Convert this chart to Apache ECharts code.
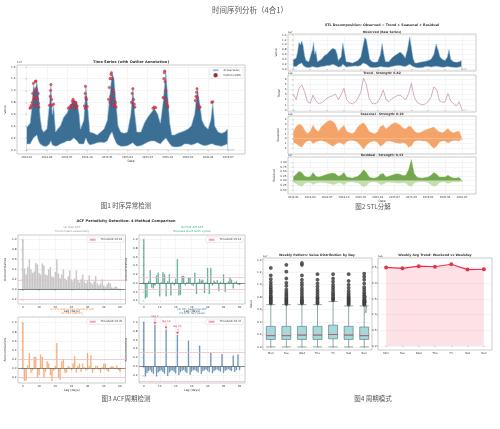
<!DOCTYPE html>
<html>
<head>
<meta charset="utf-8">
<script src="https://cdn.jsdelivr.net/npm/echarts@6/dist/echarts.min.js"></script>
<style>
html, body { margin: 0; padding: 0; background: #fff; }
#main { width: 500px; height: 429px; }
</style>
</head>
<body>
<div id="main"></div>
<script>
// ---------- data ----------
// panel 1 / STL observed: months since 2024-01, envelope of the raw series (x1e7)
const tsMonth = [0,0.25,0.5,0.75,1.0,1.25,1.5,1.75,2.0,2.25,2.5,2.75,3.0,3.4,3.6,3.8,4.0,4.3,4.6,5.0,5.5,6.0,6.5,7.0,7.5,7.8,8.0,8.5,8.8,9.1,9.4,10,10.5,11,11.5,12,12.4,12.7,13,13.3,13.6,14,14.5,15,15.5,15.8,16.1,16.4,17,17.5,18,18.5,19,19.5,19.9,20.3,20.7,21,21.3,21.6,22,22.5,23,23.5,24,24.5,25,25.4,25.8,26.1,26.5,27,27.4,27.7,28,28.5,29,29.5,29.9];
const tsHigh = [0.38,0.35,0.45,0.7,1.1,1.0,1.15,0.95,0.55,0.35,0.3,0.3,0.35,0.8,1.1,0.6,0.75,0.3,0.35,0.4,0.55,0.62,0.75,0.85,0.8,0.6,0.35,0.5,1.07,0.7,0.3,0.28,0.25,0.3,0.35,0.5,0.95,1.3,1.2,0.8,0.4,0.3,0.28,0.3,0.6,1.05,0.6,0.3,0.3,0.45,0.55,0.62,0.7,0.6,0.45,0.8,1.33,0.9,0.45,0.25,0.25,0.28,0.3,0.32,0.35,0.4,0.6,1.03,0.75,0.5,0.4,0.35,0.5,0.8,0.4,0.3,0.28,0.3,0.35];
const tsLow = [0.1,0.08,0.1,0.15,0.2,0.2,0.25,0.15,0.1,0.07,0.06,0.05,0.06,0.1,0.15,0.08,0.06,0.06,0.07,0.1,0.12,0.15,0.15,0.2,0.15,0.1,0.08,0.1,0.2,0.12,0.08,0.1,0.12,0.13,0.12,0.15,0.25,0.3,0.2,0.12,0.08,0.06,0.06,0.07,0.1,0.12,0.08,0.06,0.07,0.1,0.13,0.15,0.15,0.12,0.1,0.15,0.2,0.15,0.1,0.06,0.05,0.05,0.06,0.1,0.1,0.08,0.1,0.12,0.1,0.08,0.07,0.08,0.1,0.1,0.08,0.07,0.06,0.08,0.1];
const tailMonth = [29.95, 30.9];
const tailValue = [0.0, 0.0];
const outliers = [
  [0.5,0.7],[0.6,0.72],[0.7,0.75],[0.8,0.8],[0.9,0.95],[1.0,1.12],[1.0,0.85],[1.1,0.9],[1.2,1.0],[1.2,0.75],[1.3,1.15],[1.35,1.16],[1.4,1.03],[1.5,0.88],[1.6,0.85],[1.7,0.95],[1.75,0.78],[1.8,0.72],
  [3.4,0.75],[3.5,0.9],[3.55,1.0],[3.6,1.1],[3.7,0.85],[3.75,0.75],[4.0,0.77],
  [6.2,0.7],[6.4,0.72],[6.6,0.75],[6.8,0.82],[6.9,0.85],[7.0,0.78],[7.1,0.7],[7.2,0.73],[7.3,0.8],[7.4,0.72],[7.5,0.74],
  [8.6,0.74],[8.7,0.95],[8.75,1.07],[8.8,0.88],[8.9,0.85],[9.0,0.73],[8.7,0.7],
  [12.2,0.85],[12.3,1.05],[12.4,1.2],[12.4,0.8],[12.5,0.9],[12.55,1.27],[12.6,1.3],[12.7,1.2],[12.8,1.0],[12.8,0.75],[12.9,0.95],[13.0,0.85],[13.1,0.75],[13.2,0.8],[13.3,0.72],
  [15.6,0.8],[15.7,0.95],[15.8,1.03],[15.9,0.85],[16.0,0.77],[16.1,0.72],
  [18.8,0.7],[19.0,0.72],[19.2,0.71],
  [20.3,0.88],[20.4,1.2],[20.5,1.3],[20.55,1.33],[20.6,1.15],[20.7,1.0],[20.75,0.85],[20.8,0.8],[20.9,0.75],[21.0,0.72],
  [25.1,0.83],[25.2,0.9],[25.3,0.97],[25.35,1.03],[25.4,0.88],[25.5,0.77],[25.6,0.7],[25.8,0.72],
  [27.55,0.8],[27.7,0.81]
];
const dateTicks = [0,3,6,9,12,15,18,21,24,27,30];

// STL components on a half-month grid (months 0, 0.5, ..., 30)
const stlMonth = [0,0.5,1,1.5,2,2.5,3,3.5,4,4.5,5,5.5,6,6.5,7,7.5,8,8.5,9,9.5,10,10.5,11,11.5,12,12.5,13,13.5,14,14.5,15,15.5,16,16.5,17,17.5,18,18.5,19,19.5,20,20.5,21,21.5,22,22.5,23,23.5,24,24.5,25,25.5,26,26.5,27,27.5,28,28.5,29,29.5,30];
const trendVal = [3.1,2.0,4.2,4.9,3.6,1.6,1.3,2.9,1.8,1.3,1.4,1.8,2.3,2.6,2.8,3.1,2.0,3.0,4.2,2.0,1.4,1.2,1.5,2.3,3.5,6.2,5.0,2.2,1.3,1.2,1.5,2.5,3.9,2.0,1.6,2.2,2.5,2.8,2.9,2.4,2.0,3.2,5.2,2.6,1.5,1.2,1.0,1.2,1.6,2.5,4.5,4.0,1.8,1.5,1.6,3.2,1.8,1.2,0.8,1.6,0.1];
const seasonHigh = [1.5,2.5,3.0,2.8,1.8,1.0,1.5,2.8,1.8,1.5,2.5,3.0,3.5,3.8,3.6,3.0,1.5,2.2,2.8,1.5,1.2,1.0,1.5,2.5,3.0,3.3,2.5,1.5,1.2,1.0,1.4,2.5,2.8,2.0,2.5,3.0,3.3,3.2,2.8,2.2,2.0,2.6,2.4,1.6,1.2,1.2,1.5,1.8,2.0,2.2,2.4,1.8,1.4,1.2,1.6,2.1,1.5,1.2,1.4,1.6,0.1];
const seasonLow = [-0.8,-1.0,-1.5,-1.8,-0.9,-0.5,-0.4,-1.0,-0.7,-0.5,-0.4,-0.6,-0.8,-1.2,-1.6,-1.2,-0.8,-0.9,-1.3,-0.6,-0.4,-0.4,-0.5,-0.8,-1.5,-2.2,-1.4,-0.8,-0.6,-0.5,-0.8,-1.6,-1.2,-0.6,-0.5,-0.6,-0.8,-0.9,-1.0,-0.8,-1.0,-1.8,-1.5,-0.6,-0.4,-0.4,-0.5,-0.5,-0.8,-1.5,-2.0,-1.6,-0.7,-0.5,-0.5,-0.9,-0.6,-0.4,-0.4,-0.5,-0.05];
const residHigh = [0.2,0.35,0.5,0.45,0.25,0.2,0.22,0.45,0.25,0.2,0.25,0.3,0.35,0.4,0.42,0.38,0.25,0.3,0.45,0.2,0.18,0.15,0.2,0.25,0.4,0.6,0.45,0.2,0.15,0.15,0.2,0.35,0.4,0.2,0.25,0.3,0.35,0.38,0.35,0.28,0.3,0.6,1.15,0.4,0.2,0.15,0.15,0.18,0.2,0.3,0.45,0.35,0.2,0.2,0.2,0.3,0.2,0.15,0.15,0.18,0.02];
const residLow = [-0.08,-0.15,-0.25,-0.3,-0.15,-0.08,-0.08,-0.2,-0.12,-0.08,-0.08,-0.1,-0.12,-0.15,-0.2,-0.18,-0.1,-0.12,-0.22,-0.1,-0.06,-0.06,-0.08,-0.1,-0.2,-0.32,-0.25,-0.1,-0.06,-0.06,-0.08,-0.2,-0.18,-0.08,-0.07,-0.08,-0.1,-0.12,-0.12,-0.1,-0.12,-0.25,-0.3,-0.12,-0.06,-0.05,-0.05,-0.06,-0.1,-0.2,-0.3,-0.25,-0.1,-0.06,-0.06,-0.15,-0.08,-0.05,-0.05,-0.06,-0.01];

// ACF, lags 0..60
const acfRaw = [1.00,0.42,0.30,0.45,0.60,0.40,0.33,0.36,0.53,0.50,0.33,0.30,0.52,0.48,0.30,0.28,0.40,0.45,0.26,0.24,0.35,0.60,0.32,0.22,0.30,0.40,0.22,0.18,0.26,0.38,0.20,0.16,0.22,0.38,0.18,0.14,0.20,0.30,0.16,0.12,0.18,0.28,0.14,0.10,0.16,0.27,0.12,0.08,0.12,0.20,0.08,0.05,0.10,0.14,0.12,0.04,0.03,0.06,0.05,0.02,0.01];
const acfDiff = [1.00,-0.35,-0.32,0.05,0.30,-0.10,-0.12,-0.05,0.18,0.24,-0.30,0.02,0.25,0.20,-0.30,0.05,0.20,-0.28,0.02,-0.05,0.10,0.55,-0.28,-0.27,0.17,0.17,-0.05,0.02,0.12,0.12,-0.03,-0.06,0.24,-0.25,0.02,0.10,0.06,0.08,-0.22,0.02,0.35,-0.25,0.35,-0.05,0.06,0.02,0.07,-0.18,0.03,-0.02,0.20,-0.20,0.01,0.04,0.12,0.08,-0.12,0.02,0.05,-0.03,-0.04];
const acfResid = [1.00,-0.28,-0.27,0.07,0.33,-0.10,-0.05,0.25,0.25,-0.20,-0.15,0.30,0.25,-0.20,-0.08,0.15,0.10,-0.15,-0.28,-0.05,0.05,0.55,-0.20,-0.25,0.15,0.20,-0.10,-0.10,0.05,0.02,-0.05,0.10,0.26,-0.10,0.05,0.10,-0.08,0.10,0.02,-0.05,0.33,0.05,0.28,-0.10,-0.03,0.05,0.05,-0.03,-0.10,0.02,0.10,0.10,-0.05,-0.08,0.02,0.05,0.03,-0.02,0.06,-0.04,-0.08];
const acfSeason = [1.00,-0.22,-0.14,-0.10,-0.08,-0.12,-0.16,
  0.93,-0.22,-0.13,-0.10,-0.08,-0.12,-0.16,
  0.83,-0.21,-0.13,-0.09,-0.08,-0.11,-0.15,
  0.71,-0.19,-0.12,-0.09,-0.07,-0.11,-0.14,
  0.58,-0.18,-0.11,-0.08,-0.07,-0.10,-0.13,
  0.47,-0.16,-0.10,-0.08,-0.06,-0.09,-0.12,
  0.31,-0.15,-0.10,-0.07,-0.06,-0.09,-0.11,
  0.28,-0.14,-0.09,-0.07,-0.05,-0.08,-0.10,
  0.25,-0.12,-0.08,0.27,-0.08];
const thresholds = [0.19, 0.14, 0.20, 0.32];
const lagTicks = [0,10,20,30,40,50,60];

// weekly pattern
const days = ['Mon','Tue','Wed','Thu','Fri','Sat','Sun'];
const boxStats = [
  [0.0,0.12,0.18,0.33,0.68],
  [0.0,0.12,0.18,0.33,0.68],
  [0.0,0.12,0.19,0.33,0.68],
  [0.0,0.12,0.19,0.33,0.68],
  [0.0,0.13,0.20,0.35,0.73],
  [0.0,0.12,0.19,0.33,0.66],
  [0.0,0.12,0.18,0.32,0.66]
];
const boxOutliers = [
  [0.70,0.72,0.74,0.76,0.78,0.80,0.82,0.85,0.88,0.90,0.93,0.96,1.00,1.04,1.09,1.15,1.27],
  [0.69,0.71,0.73,0.75,0.77,0.79,0.82,0.85,0.88,0.92,0.98,1.03,1.10,1.21,1.32],
  [0.70,0.72,0.74,0.76,0.79,0.82,0.86,0.90,0.94,0.99,1.03,1.08,1.15,1.32,1.35],
  [0.70,0.72,0.75,0.78,0.80,0.84,0.88,0.92,0.97,1.02,1.08,1.17],
  [0.75,0.77,0.79,0.82,0.85,0.88,0.92,0.96,1.00,1.05,1.10,1.17],
  [0.68,0.70,0.72,0.74,0.76,0.78,0.80,0.83,0.86,0.90,0.95,1.00,1.06,1.17],
  [0.68,0.70,0.72,0.74,0.76,0.79,0.82,0.85,0.88,0.92,0.96,1.02,1.08,1.13,1.18]
];
const dayMean = [2.50, 2.47, 2.54, 2.52, 2.60, 2.43, 2.44];

// ---------- helpers ----------
const FONT = 'DejaVu Sans';
const CJK = 'Noto Sans CJK SC';
const TXT = '#333';
const GRIDLINE = '#ebebeb';

const fmtMonth = v => {
  const y = 2024 + Math.floor(v / 12);
  const m = Math.round(v % 12) + 1;
  return y + '-' + (m < 10 ? '0' : '') + m;
};

function grid(l, t, w, h) {
  return { left: l, top: t, width: w, height: h, show: true, backgroundColor: '#fff',
    borderColor: '#b5b5b5', borderWidth: 0.7, containLabel: false };
}

function yVal(gi, min, max, ticks, dec, name, gap) {
  return {
    type: 'value', gridIndex: gi, min: min, max: max,
    name: name || '', nameLocation: 'middle', nameGap: gap || 10, nameRotate: 90,
    nameTextStyle: { fontSize: 3, color: TXT, fontFamily: FONT },
    axisLine: { show: false },
    axisTick: { show: true, length: 1.2, customValues: ticks, lineStyle: { color: '#555', width: 0.4 } },
    axisLabel: { customValues: ticks, fontSize: 2.8, color: TXT, margin: 1.5, fontFamily: FONT,
      formatter: v => v.toFixed(dec) },
    splitLine: { show: true, lineStyle: { color: GRIDLINE, width: 0.5 } }
  };
}

function xVal(gi, min, max, ticks, fmt, showLabel, name, gap) {
  return {
    type: 'value', gridIndex: gi, min: min, max: max,
    name: name || '', nameLocation: 'middle', nameGap: gap || 6,
    nameTextStyle: { fontSize: 3, color: TXT, fontFamily: FONT },
    axisLine: { show: false },
    axisTick: { show: true, length: 1.2, customValues: ticks, lineStyle: { color: '#555', width: 0.4 } },
    axisLabel: { show: showLabel, customValues: ticks, fontSize: 2.6, color: TXT, margin: 1.5,
      fontFamily: FONT, formatter: fmt },
    splitLine: { show: true, lineStyle: { color: GRIDLINE, width: 0.5 } }
  };
}

function xCat(gi) {
  return {
    type: 'category', gridIndex: gi, data: days, boundaryGap: true,
    axisLine: { show: false },
    axisTick: { show: true, length: 1.2, alignWithLabel: true, lineStyle: { color: '#555', width: 0.4 } },
    axisLabel: { fontSize: 2.8, color: TXT, margin: 1.8, interval: 0, fontFamily: FONT },
    splitLine: { show: false }
  };
}

function pairs(xs, ys) { return xs.map((x, i) => [x, ys[i]]); }

// filled area from zero to the given curve
function area(gi, xs, ys, fill, edge, name, width) {
  return { type: 'line', name: name, xAxisIndex: gi, yAxisIndex: gi, data: pairs(xs, ys), symbol: 'none',
    itemStyle: { color: edge }, lineStyle: { color: edge, width: width || 0.4 },
    areaStyle: { color: fill, opacity: 1 }, silent: true };
}

function acfSeries(gi, values, fill, edge, thr, extra) {
  const lines = [
    { yAxis: 0, lineStyle: { color: '#444', width: 0.6, type: 'solid' } }
  ];
  return [
    { type: 'bar', xAxisIndex: gi, yAxisIndex: gi, data: values.map((v, i) => [i, v]),
      barWidth: 1.1, itemStyle: { color: fill, borderColor: edge, borderWidth: 0.3 },
      markLine: { silent: true, symbol: 'none', label: { show: false }, data: lines.concat(extra || []) } },
    { type: 'line', name: 'Threshold \u00b1' + thr.toFixed(2), xAxisIndex: gi, yAxisIndex: gi, data: [],
      symbol: 'none', itemStyle: { color: '#f4a3b0' }, lineStyle: { color: '#f4a3b0', width: 0.8 },
      markLine: { silent: true, symbol: 'none', label: { show: false },
        lineStyle: { color: '#f6b5bf', width: 0.7, type: 'solid' },
        data: [{ yAxis: thr }, { yAxis: -thr }] } }
  ];
}

function acfLegend(right, top, thr) {
  return { data: ['Threshold \u00b1' + thr.toFixed(2)], right: right, top: top, orient: 'vertical',
    itemWidth: 6, itemHeight: 2, itemGap: 1, padding: [1.2, 1.8], backgroundColor: '#fff',
    borderColor: '#d0d0d0', borderWidth: 0.4, borderRadius: 1,
    textStyle: { fontSize: 2.6, color: TXT, fontFamily: FONT }, selectedMode: false };
}

function label(x, y, text, opts) {
  const o = opts || {};
  return { type: 'text', x: x, y: y, silent: true,
    style: { text: text, fill: o.color || TXT, align: o.align || 'center', verticalAlign: 'middle',
      fontSize: o.size || 3, fontWeight: o.bold ? 'bold' : 'normal', fontFamily: o.family || FONT } };
}

// ---------- layout ----------
const grids = [
  grid(17, 65, 228, 89),        // 0 time series
  grid(288, 34, 188, 37),       // 1 observed
  grid(288, 75, 188, 37),       // 2 trend
  grid(288, 116, 188, 38),      // 3 seasonal
  grid(288, 157, 188, 37),      // 4 residual
  grid(18, 235, 107.5, 69),     // 5 acf a
  grid(139, 235, 106, 69),      // 6 acf b
  grid(18, 317, 107.5, 66),     // 7 acf c
  grid(139, 317, 106, 66),      // 8 acf d
  grid(263, 258, 109, 92),      // 9 box
  grid(378, 258, 114, 92)       // 10 weekly mean
];

const lagFmt = v => String(v);
const xAxes = [
  xVal(0, -1.45, 32.5, dateTicks, fmtMonth, true, 'Date', 6),
  xVal(1, -0.95, 32.5, dateTicks, fmtMonth, false),
  xVal(2, -0.95, 32.5, dateTicks, fmtMonth, false),
  xVal(3, -0.95, 32.5, dateTicks, fmtMonth, false),
  xVal(4, -0.95, 32.5, dateTicks, fmtMonth, true, 'Date', 5.5),
  xVal(5, -3, 63.4, lagTicks, lagFmt, true, 'Lag (days)', 5.5),
  xVal(6, -3, 63.4, lagTicks, lagFmt, true, 'Lag (days)', 5.5),
  xVal(7, -3, 63.4, lagTicks, lagFmt, true, 'Lag (days)', 5.5),
  xVal(8, -3, 63.4, lagTicks, lagFmt, true, 'Lag (days)', 5.5),
  xCat(9),
  xCat(10)
];

const valTicks = [0,0.2,0.4,0.6,0.8,1.0,1.2,1.4];
const acfTicksA = [-0.2,0,0.2,0.4,0.6,0.8,1.0];
const acfTicksB = [-0.4,-0.2,0,0.2,0.4,0.6,0.8,1.0];
const yAxes = [
  yVal(0, -0.07, 1.43, valTicks, 1, 'Value', 7.5),
  yVal(1, -0.08, 1.44, valTicks, 1, 'Value', 7.5),
  yVal(2, -0.4, 6.84, [0,1,2,3,4,5,6], 0, 'Trend', 5.5),
  yVal(3, -3.2, 4.7, [-2,-1,0,1,2,3,4], 0, 'Seasonal', 6),
  yVal(4, -0.72, 1.29, [-0.5,-0.25,0,0.25,0.5,0.75,1.0], 2, 'Residual', 9),
  yVal(5, -0.29, 1.09, acfTicksA, 1, 'Autocorrelation', 8),
  yVal(6, -0.475, 1.1, acfTicksB, 1, 'Autocorrelation', 8),
  yVal(7, -0.325, 1.125, acfTicksA, 1, 'Autocorrelation', 8),
  yVal(8, -0.365, 1.11, acfTicksA, 1, 'Autocorrelation', 8),
  yVal(9, -0.05, 1.43, valTicks, 1, 'Value', 7.5),
  yVal(10, -0.13, 2.8, [0,0.5,1.0,1.5,2.0,2.5], 1, 'Mean Value', 7.5)
];

// ---------- series ----------
const series = [];
// panel 1: dense raw series shown as its envelope (dark up to the high curve, white under the low curve)
series.push(area(0, tsMonth, tsHigh, '#3b6f94', '#9dc3de', 'Actual Value', 0.6));
series.push(area(0, tsMonth, tsLow, '#ffffff', '#9dc3de', null, 0.5));
series.push({ type: 'line', xAxisIndex: 0, yAxisIndex: 0, data: pairs(tailMonth, tailValue), symbol: 'none',
  lineStyle: { color: '#9dc3de', width: 0.8 }, silent: true });
series.push({ type: 'scatter', name: 'Outliers (IQR)', xAxisIndex: 0, yAxisIndex: 0, data: outliers, z: 5,
  symbol: 'circle', symbolSize: 2.6, itemStyle: { color: '#e8344a', borderColor: '#8a1020', borderWidth: 0.3 }, silent: true });

// STL
series.push(area(1, tsMonth, tsHigh, '#356a90', '#8fb8d6', null, 0.5));
series.push(area(1, tsMonth, tsLow, '#ffffff', '#8fb8d6', null, 0.5));
series.push({ type: 'line', xAxisIndex: 1, yAxisIndex: 1, data: pairs(tailMonth, tailValue), symbol: 'none',
  lineStyle: { color: '#9dc3de', width: 0.8 }, silent: true });
series.push({ type: 'line', xAxisIndex: 2, yAxisIndex: 2, data: pairs(stlMonth, trendVal), symbol: 'none',
  lineStyle: { color: '#b8739f', width: 0.6 }, silent: true });
series.push({ type: 'line', xAxisIndex: 2, yAxisIndex: 2, data: pairs(tailMonth, tailValue), symbol: 'none',
  lineStyle: { color: '#dcb3cc', width: 0.6 }, silent: true });
series.push(area(3, stlMonth, seasonHigh, '#f4a468', '#f6b585'));
series.push(area(3, stlMonth, seasonLow, '#f4a468', '#f6b585'));
series.push(area(4, stlMonth, residHigh, '#74a84e', '#8fbb6c'));
series.push(area(4, stlMonth, residLow, '#c4deae', '#b5d59a'));

// ACF
acfSeries(5, acfRaw, '#d4d4d4', '#9a9a9a', thresholds[0]).forEach(s => series.push(s));
acfSeries(6, acfDiff, '#5bb8a2', '#3a8f7b', thresholds[1]).forEach(s => series.push(s));
acfSeries(7, acfResid, '#f7b47c', '#e98d45', thresholds[2]).forEach(s => series.push(s));
const lagNotes = [
  [{ coord: [7, 1.08], name: 'lag 7' }, { coord: [7, 0.95] }],
  [{ coord: [14, 0.96], name: 'lag 14' }, { coord: [14, 0.85] }],
  [{ coord: [21, 0.84], name: 'lag 21' }, { coord: [21, 0.73] }]
].map(p => {
  p[0].symbol = 'none';
  p[1].symbol = 'arrow';
  p[1].symbolSize = 2.2;
  p[0].lineStyle = { color: '#e8344a', width: 0.4, type: 'solid' };
  p[0].label = { show: true, position: 'start', formatter: '{b}', fontSize: 2.8, color: '#e8344a',
    fontFamily: FONT, distance: 1 };
  return p;
});
acfSeries(8, acfSeason, '#6a96bd', '#3f6f96', thresholds[3], lagNotes).forEach(s => series.push(s));

// weekly box plot
series.push({ type: 'boxplot', xAxisIndex: 9, yAxisIndex: 9, data: boxStats, boxWidth: [9, 9],
  itemStyle: { color: '#a6d9db', borderColor: '#4f6f72', borderWidth: 0.6 }, silent: true });
const outlierPts = [];
boxOutliers.forEach((vals, d) => vals.forEach(v => outlierPts.push([d, v])));
series.push({ type: 'scatter', xAxisIndex: 9, yAxisIndex: 9, data: outlierPts, symbol: 'emptyCircle',
  symbolSize: 1.8, itemStyle: { color: '#333', borderWidth: 0.3 }, silent: true });
series.push({ type: 'scatter', xAxisIndex: 9, yAxisIndex: 9, data: boxStats.map((b, d) => [d, b[2]]),
  symbol: 'rect', symbolSize: [9, 0.8], itemStyle: { color: '#e8344a' }, silent: true });

// weekly mean
series.push({ type: 'line', xAxisIndex: 10, yAxisIndex: 10, data: dayMean, symbol: 'circle', symbolSize: 4,
  itemStyle: { color: '#e8344a' }, lineStyle: { color: '#e8344a', width: 1.1 },
  areaStyle: { color: 'rgba(240,120,140,0.3)' }, silent: true });

// ---------- texts ----------
const graphics = [
  label(250, 10, '时间序列分析（4合1）', { size: 7.5, color: '#555', family: CJK }),
  label(126, 206, '图1 时序异常检测', { size: 6.5, color: '#555', family: CJK }),
  label(373, 207, '图2 STL分解', { size: 6.5, color: '#555', family: CJK }),
  label(126, 399, '图3 ACF周期检测', { size: 6.5, color: '#555', family: CJK }),
  label(373, 399, '图4 周期模式', { size: 6.5, color: '#555', family: CJK }),

  label(131, 62.5, 'Time Series (with Outlier Annotation)', { size: 3.6, bold: true }),
  label(17, 62.5, '1e7', { size: 2.6, align: 'left' }),

  label(382, 25, 'STL Decomposition: Observed = Trend + Seasonal + Residual', { size: 3.3, bold: true }),
  label(382, 32, 'Observed (Raw Series)', { size: 3, bold: true }),
  label(382, 73, 'Trend - Strength: 0.82', { size: 3, bold: true }),
  label(382, 114, 'Seasonal - Strength: 0.29', { size: 3, bold: true }),
  label(382, 155, 'Residual - Strength: 0.43', { size: 3, bold: true }),
  label(288, 32, '1e7', { size: 2.4, align: 'left' }),
  label(288, 73, '1e6', { size: 2.4, align: 'left' }),
  label(288, 114, '1e6', { size: 2.4, align: 'left' }),
  label(288, 155, '1e7', { size: 2.4, align: 'left' }),

  label(126, 221, 'ACF Periodicity Detection: 4-Method Comparison', { size: 3.6, bold: true }),
  label(72, 227.5, '(a) Raw ACF', { size: 2.8, color: '#999' }),
  label(72, 231.5, 'Trend masks seasonality', { size: 2.8, color: '#999' }),
  label(192, 227.5, '(b) First-diff ACF', { size: 2.8, color: '#3aa58c' }),
  label(192, 231.5, 'Exposes short-term cycles', { size: 2.8, color: '#3aa58c' }),
  label(72, 309.5, '(c) STL Detrended Residual ACF', { size: 2.8, color: '#f09a55' }),
  label(72, 313.5, 'Verifies stability', { size: 2.8, color: '#f09a55' }),
  label(192, 309.5, '(d) STL Seasonal ACF', { size: 2.8, color: '#4a7fae' }),
  label(192, 313.5, '7/14/21-day peaks', { size: 2.8, color: '#4a7fae' }),

  label(317, 255.5, 'Weekly Pattern: Value Distribution by Day', { size: 3.2, bold: true }),
  label(435, 255.5, 'Weekly Avg Trend: Weekend vs Weekday', { size: 3.2, bold: true }),
  label(263, 256, '1e7', { size: 2.4, align: 'left' }),
  label(378, 256, '1e6', { size: 2.4, align: 'left' })
];

const chart = echarts.init(document.getElementById('main'), null, { renderer: 'canvas' });
chart.setOption({
  animation: false,
  backgroundColor: '#fff',
  textStyle: { fontFamily: FONT },
  grid: grids,
  xAxis: xAxes,
  yAxis: yAxes,
  legend: [
    { data: ['Actual Value', 'Outliers (IQR)'], right: 257, top: 67.5, orient: 'vertical',
      itemWidth: 6, itemHeight: 2.5, itemGap: 1.2, padding: [1.2, 1.8], backgroundColor: '#fff',
      borderColor: '#d0d0d0', borderWidth: 0.4, borderRadius: 1, selectedMode: false,
      textStyle: { fontSize: 2.6, color: TXT, fontFamily: FONT } },
    acfLegend(376, 237, thresholds[0]),
    acfLegend(257, 237, thresholds[1]),
    acfLegend(376, 319, thresholds[2]),
    acfLegend(257, 319, thresholds[3])
  ],
  series: series,
  graphic: graphics
});
</script>
</body>
</html>
